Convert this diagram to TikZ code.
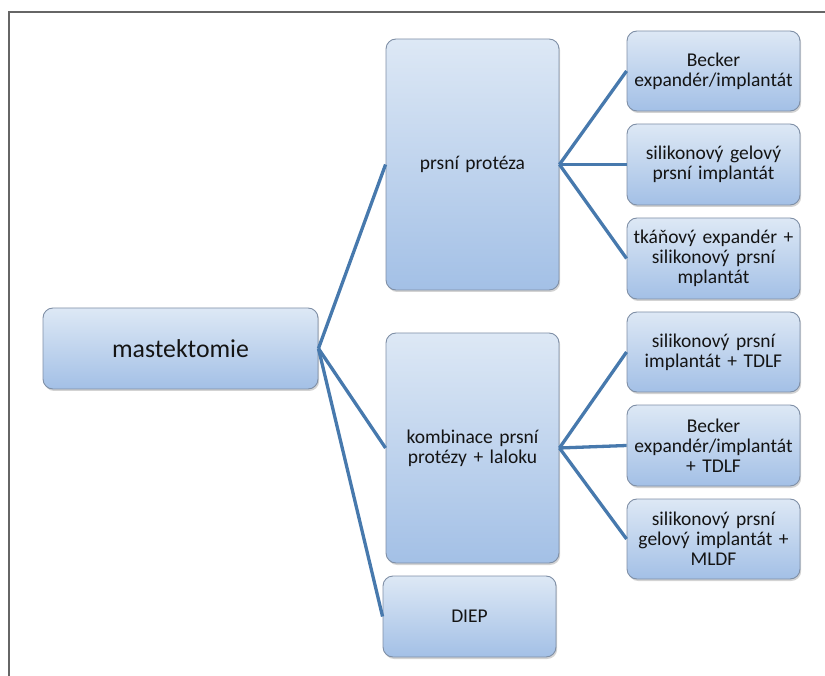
\documentclass[tikz,border=0pt]{standalone}
\usepackage{fontspec}
\setmainfont{Carlito}
\usetikzlibrary{shadows}
\definecolor{boxtop}{HTML}{DDE8F5}
\definecolor{boxbot}{HTML}{A3C0E6}
\definecolor{boxedge}{HTML}{7F8FA6}
\definecolor{conn}{HTML}{4779AD}
\tikzset{
  box/.style={draw=boxedge, line width=0.9pt, rounded corners=10pt,
    top color=boxtop, bottom color=boxbot, inner sep=0pt,
    minimum width=173pt, align=center, text width=168pt,
    font=\fontsize{19.5}{20}\selectfont, text=black!92,
    drop shadow={shadow xshift=1.2pt, shadow yshift=-2pt, opacity=0.35}},
  link/.style={draw=conn, line width=3.3pt}
}
\begin{document}
\begin{tikzpicture}[x=1pt,y=-1pt]
\useasboundingbox (0,0) rectangle (825,676);
\draw[gray!80!black, line width=1.3pt] (825,12) -- (9,12) -- (9,676);
\node[box, minimum width=275pt, minimum height=81pt, text width=260pt, font=\fontsize{25.8}{28}\selectfont] (m) at (180.5,348.5) {mastektomie};
\node[box, minimum height=251pt] (p) at (472.5,164.5) {prsní protéza};
\node[box, minimum height=230pt] (k) at (472.5,448) {kombinace prsní\\protézy + laloku};
\node[box, minimum height=81pt] (d) at (469.5,616.5) {DIEP};
\node[box, minimum height=80pt] (c1) at (713.5,71) {Becker\\expandér/implantát};
\node[box, minimum height=81pt] (c2) at (713.5,164.5) {silikonový gelový\\prsní implantát};
\node[box, minimum height=81pt] (c3) at (713.5,258.5) {tkáňový expandér +\\silikonový prsní\\mplantát};
\node[box, minimum height=80pt] (c4) at (713.5,352) {silikonový prsní\\implantát + TDLF};
\node[box, minimum height=81pt] (c5) at (713.5,445.5) {Becker\\expandér/implantát\\+ TDLF};
\node[box, minimum height=80pt] (c6) at (713.5,539) {silikonový prsní\\gelový implantát +\\MLDF};
\draw[link] (m.east) -- (p.west);
\draw[link] (m.east) -- (k.west);
\draw[link] (m.east) -- (d.west);
\draw[link] (p.east) -- (c1.west);
\draw[link] (p.east) -- (c2.west);
\draw[link] (p.east) -- (c3.west);
\draw[link] (k.east) -- (c4.west);
\draw[link] (k.east) -- (c5.west);
\draw[link] (k.east) -- (c6.west);
\end{tikzpicture}
\end{document}
